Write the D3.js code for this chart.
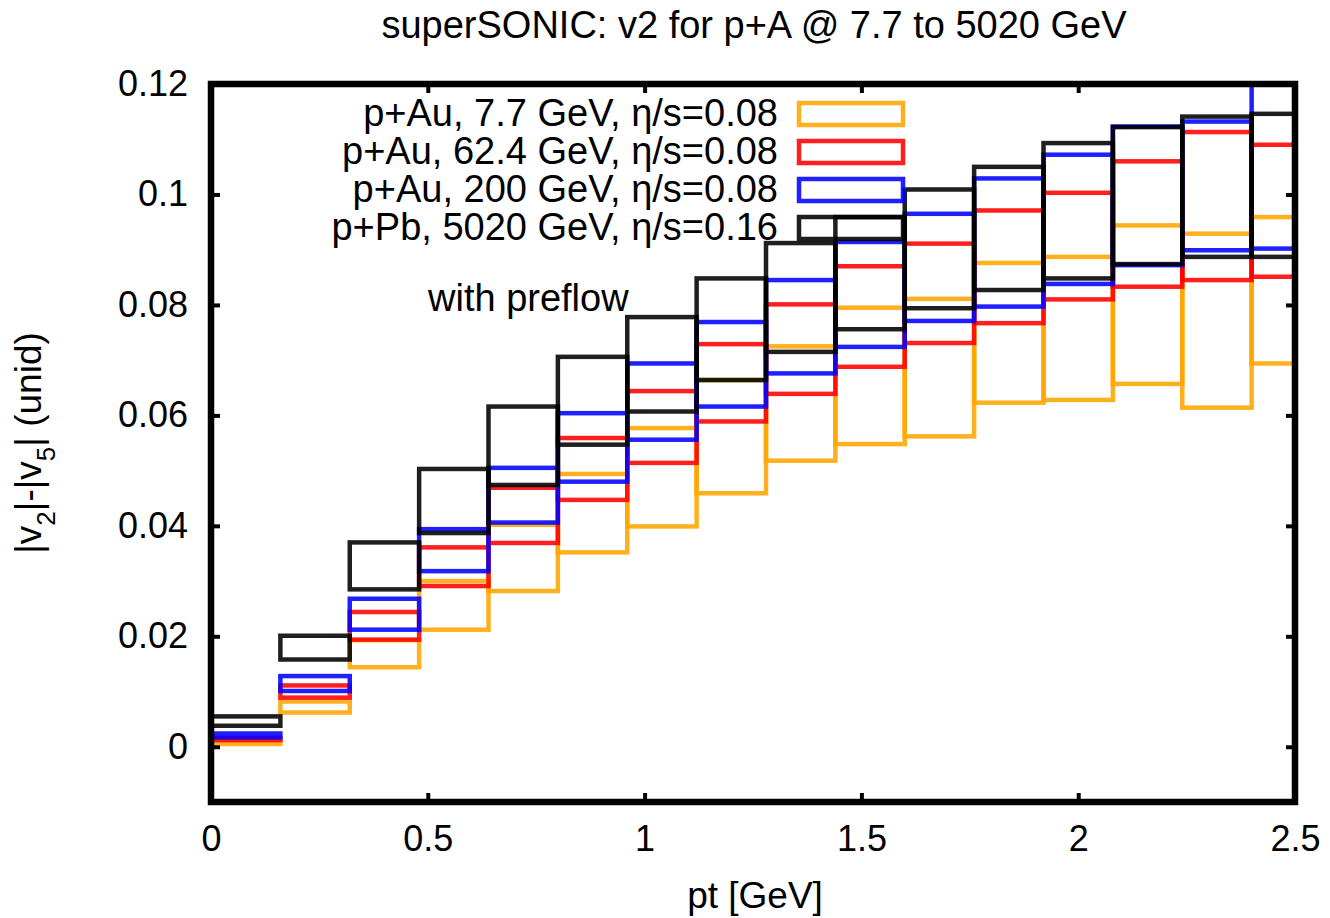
<!DOCTYPE html>
<html>
<head>
<meta charset="utf-8">
<script src="https://cdn.jsdelivr.net/npm/d3@7"></script>
<style>
  html, body { margin: 0; padding: 0; background: #fff; }
  svg { display: block; }
  text { font-family: "Liberation Sans", Arial, sans-serif; fill: #000; }
</style>
</head>
<body>
<svg id="chart" width="1330" height="918"></svg>
<script>
// ---- data ----
const ptBinLow = [0, 0.16, 0.32, 0.48, 0.64, 0.80, 0.96, 1.12, 1.28, 1.44, 1.60, 1.76, 1.92, 2.08, 2.24, 2.40];
const ptBinWidth = 0.16;

const pAu77Lo  = [0.0005, 0.0062, 0.0144, 0.0212, 0.0282, 0.0352, 0.0399, 0.0459, 0.0518, 0.0548, 0.0562, 0.0623, 0.0628, 0.0657, 0.0614, 0.0694];
const pAu77Hi  = [0.0010, 0.0082, 0.0193, 0.0300, 0.0402, 0.0494, 0.0577, 0.0664, 0.0725, 0.0795, 0.0811, 0.0876, 0.0887, 0.0944, 0.0929, 0.0959];
const pAu624Lo = [0.0012, 0.0089, 0.0194, 0.0291, 0.0369, 0.0447, 0.0514, 0.0589, 0.0639, 0.0688, 0.0731, 0.0767, 0.0810, 0.0833, 0.0845, 0.0851];
const pAu624Hi = [0.0016, 0.0111, 0.0244, 0.0361, 0.0469, 0.0559, 0.0644, 0.0729, 0.0801, 0.0870, 0.0911, 0.0971, 0.1003, 0.1060, 0.1113, 0.1090];
const pAu200Lo = [0.0017, 0.0101, 0.0212, 0.0318, 0.0406, 0.0480, 0.0556, 0.0616, 0.0676, 0.0724, 0.0771, 0.0797, 0.0838, 0.0872, 0.0899, 0.0902];
const pAu200Hi = [0.0024, 0.0128, 0.0268, 0.0394, 0.0505, 0.0604, 0.0694, 0.0769, 0.0845, 0.0914, 0.0965, 0.1029, 0.1072, 0.1123, 0.1132, 0.1250];
const pPb5020Lo = [0.0038, 0.0158, 0.0285, 0.0387, 0.0474, 0.0547, 0.0607, 0.0664, 0.0715, 0.0756, 0.0794, 0.0827, 0.0848, 0.0874, 0.0887, 0.0887];
const pPb5020Hi = [0.0055, 0.0201, 0.0370, 0.0503, 0.0616, 0.0706, 0.0778, 0.0848, 0.0912, 0.0959, 0.1009, 0.1050, 0.1093, 0.1122, 0.1141, 0.1146];

const seriesNames = ["p+Au, 7.7 GeV, \u03B7/s=0.08", "p+Au, 62.4 GeV, \u03B7/s=0.08", "p+Au, 200 GeV, \u03B7/s=0.08", "p+Pb, 5020 GeV, \u03B7/s=0.16"];
const seriesColors = ["#ffa500", "#ff0000", "#0000ff", "#000000"];

const xTicks = [0, 0.5, 1, 1.5, 2, 2.5];
const yTicks = [0, 0.02, 0.04, 0.06, 0.08, 0.1, 0.12];

const titleText = "superSONIC: v2 for p+A @ 7.7 to 5020 GeV";
const xLabelText = "pt [GeV]";
const noteText = "with preflow";

// ---- build ----
const series = [
  { name: seriesNames[0], color: seriesColors[0], lo: pAu77Lo,  hi: pAu77Hi },
  { name: seriesNames[1], color: seriesColors[1], lo: pAu624Lo, hi: pAu624Hi },
  { name: seriesNames[2], color: seriesColors[2], lo: pAu200Lo, hi: pAu200Hi },
  { name: seriesNames[3], color: seriesColors[3], lo: pPb5020Lo, hi: pPb5020Hi }
];

const L = 211, R = 1295, T = 84, B = 802;
const x = d3.scaleLinear().domain([0, 2.5]).range([L, R]);
const y = d3.scaleLinear().domain([-0.01, 0.12]).range([B, T]);

const svg = d3.select("#chart");

svg.append("defs").append("clipPath").attr("id", "plotclip")
  .append("rect").attr("x", L).attr("y", T).attr("width", R - L).attr("height", B - T);

// title
svg.append("text").attr("x", 754).attr("y", 38).attr("text-anchor", "middle")
  .attr("font-size", 38).text(titleText);

// data boxes
const plot = svg.append("g").attr("clip-path", "url(#plotclip)");
series.forEach(s => {
  const bins = ptBinLow.map((p, i) => ({ p, lo: s.lo[i], hi: s.hi[i] }));
  plot.append("g").selectAll("rect").data(bins).join("rect")
    .attr("x", d => x(d.p))
    .attr("width", d => x(d.p + ptBinWidth) - x(d.p))
    .attr("y", d => y(d.hi))
    .attr("height", d => y(d.lo) - y(d.hi))
    .attr("fill", "none")
    .attr("stroke", s.color)
    .attr("stroke-width", 4.5)
    .attr("stroke-opacity", 0.88);
});

// axes (ticks inward)
const tickFont = 36;
const axL = svg.append("g").attr("transform", `translate(${L},0)`)
  .call(d3.axisLeft(y).tickValues(yTicks).tickSize(-9).tickPadding(23).tickFormat(d3.format("~g")));
const axR = svg.append("g").attr("transform", `translate(${R},0)`)
  .call(d3.axisRight(y).tickValues(yTicks).tickSize(-9).tickFormat(""));
const axB = svg.append("g").attr("transform", `translate(0,${B})`)
  .call(d3.axisBottom(x).tickValues(xTicks).tickSize(-9).tickPadding(23).tickFormat(d3.format("~g")));
const axT = svg.append("g").attr("transform", `translate(0,${T})`)
  .call(d3.axisTop(x).tickValues(xTicks).tickSize(-9).tickFormat(""));
[axL, axR, axB, axT].forEach(a => {
  a.select(".domain").remove();
  a.selectAll(".tick line").attr("stroke", "#000").attr("stroke-width", 4);
  a.selectAll(".tick text").attr("font-size", tickFont)
    .attr("font-family", "'Liberation Sans', Arial, sans-serif").attr("fill", "#000");
});

// frame
svg.append("rect").attr("x", L).attr("y", T).attr("width", R - L).attr("height", B - T)
  .attr("fill", "none").attr("stroke", "#000").attr("stroke-width", 6.5);

// legend
const legend = svg.append("g");
series.forEach((s, i) => {
  const cy = 114 + i * 38;
  legend.append("text").attr("x", 778).attr("y", cy + 12).attr("text-anchor", "end")
    .attr("font-size", 38).text(s.name);
  legend.append("rect").attr("x", 799).attr("y", cy - 11).attr("width", 104).attr("height", 22)
    .attr("fill", "none").attr("stroke", s.color).attr("stroke-width", 4.5).attr("stroke-opacity", 0.88);
});

// note
svg.append("text").attr("x", 428).attr("y", 311).attr("font-size", 38).text(noteText);

// x label
svg.append("text").attr("x", 755).attr("y", 908).attr("text-anchor", "middle")
  .attr("font-size", 37).text(xLabelText);

// y label with subscripts
const yl = svg.append("text").attr("transform", "translate(41,443) rotate(-90)")
  .attr("text-anchor", "middle").attr("font-size", 37);
yl.append("tspan").text("|v");
yl.append("tspan").attr("font-size", 26).attr("dy", 14).text("2");
yl.append("tspan").attr("dy", -14).text("|-|v");
yl.append("tspan").attr("font-size", 26).attr("dy", 14).text("5");
yl.append("tspan").attr("dy", -14).text("| (unid)");
</script>
</body>
</html>
